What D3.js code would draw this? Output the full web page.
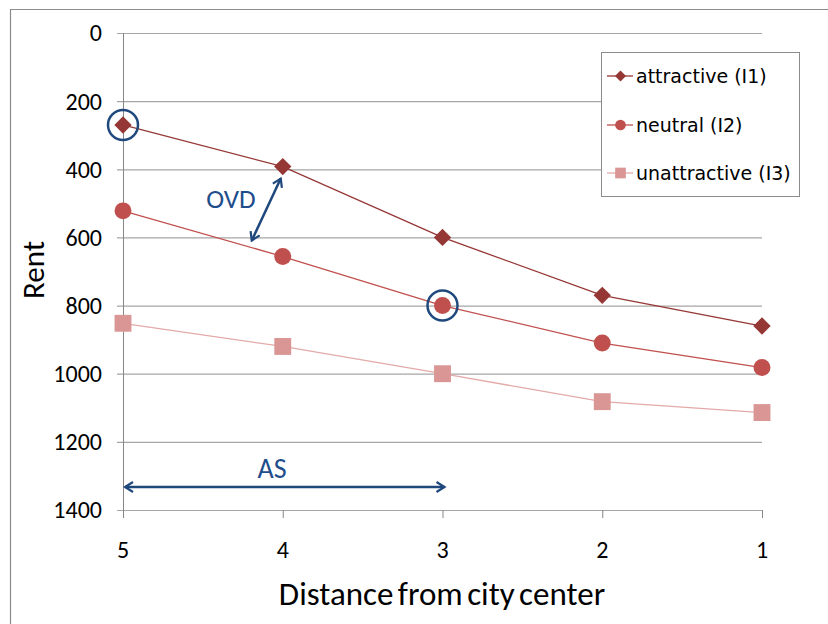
<!DOCTYPE html>
<html lang="en">
<head>
<meta charset="UTF-8">
<title>Rent vs distance</title>
<script src="https://d3js.org/d3.v7.min.js"></script>
<style>
  body { margin: 0; background: #fff; }
  svg { display: block; }
</style>
</head>
<body>
<svg id="chart" width="828" height="624"></svg>
<script>
// data
const distances = ["5", "4", "3", "2", "1"];
const attractive = [270, 392, 600, 770, 860];
const neutral = [522, 656, 800, 910, 982];
const unattractive = [852, 920, 1000, 1082, 1114];
const yTicks = [0, 200, 400, 600, 800, 1000, 1200, 1400];
const seriesNames = ["attractive (I1)", "neutral (I2)", "unattractive (I3)"];

const series = [
  { name: seriesNames[0], values: attractive, color: "#953735", line: "#953735", shape: d3.symbolSquare, rot: 45, size: 150 },
  { name: seriesNames[1], values: neutral, color: "#C0504D", line: "#C0504D", shape: d3.symbolCircle, rot: 0, size: 225 },
  { name: seriesNames[2], values: unattractive, color: "#D99694", line: "#E3AAA8", shape: d3.symbolSquare, rot: 0, size: 285 }
];

const svg = d3.select("#chart");
const labelFont = "Carlito, 'Liberation Sans Narrow', 'DejaVu Sans Condensed', sans-serif";
const navy = "#1F497D";

// outer frame (only top and left edges show)
svg.append("path")
  .attr("d", "M10.5,640 V9.5 H840")
  .attr("fill", "none")
  .attr("stroke", "#8c8c8c")
  .attr("stroke-width", 1.2);

const x = d3.scalePoint().domain(distances).range([123, 762]);
const y = d3.scaleLinear().domain([0, 1400]).range([33, 510]);

// gridlines
svg.append("g").selectAll("line")
  .data(yTicks)
  .enter().append("line")
  .attr("x1", 117).attr("x2", 762)
  .attr("y1", d => y(d) + 0.5).attr("y2", d => y(d) + 0.5)
  .attr("stroke", "#a6a6a6")
  .attr("stroke-width", 1.2);

// y axis line
svg.append("line")
  .attr("x1", 123.5).attr("x2", 123.5)
  .attr("y1", y(0)).attr("y2", y(1400))
  .attr("stroke", "#868686");

// x tick marks
svg.append("g").selectAll("line")
  .data(distances)
  .enter().append("line")
  .attr("x1", d => x(d) + 0.5).attr("x2", d => x(d) + 0.5)
  .attr("y1", y(1400)).attr("y2", y(1400) + 8)
  .attr("stroke", "#868686");

// y tick labels
svg.append("g").selectAll("text")
  .data(yTicks)
  .enter().append("text")
  .attr("x", 102)
  .attr("y", d => y(d))
  .attr("dy", "0.35em")
  .attr("text-anchor", "end")
  .attr("font-family", labelFont)
  .attr("font-size", 24)
  .attr("fill", "#000")
  .text(d => d);

// x tick labels
svg.append("g").selectAll("text")
  .data(distances)
  .enter().append("text")
  .attr("x", d => x(d))
  .attr("y", 550)
  .attr("dy", "0.35em")
  .attr("text-anchor", "middle")
  .attr("font-family", labelFont)
  .attr("font-size", 24)
  .text(d => d);

// axis titles
svg.append("text")
  .attr("x", 442).attr("y", 605)
  .attr("text-anchor", "middle")
  .attr("font-family", labelFont)
  .attr("font-size", 33)
  .attr("word-spacing", -3)
  .text("Distance from city center");

svg.append("text")
  .attr("transform", "translate(44,270) rotate(-90)")
  .attr("text-anchor", "middle")
  .attr("font-family", labelFont)
  .attr("font-size", 31)
  .text("Rent");

// series lines and markers
const line = d3.line()
  .x((d, i) => x(distances[i]))
  .y(d => y(d));

series.forEach(s => {
  svg.append("path")
    .datum(s.values)
    .attr("d", line)
    .attr("fill", "none")
    .attr("stroke", s.line)
    .attr("stroke-width", 1.3);
});

series.forEach(s => {
  svg.append("g").selectAll("path")
    .data(s.values)
    .enter().append("path")
    .attr("d", d3.symbol().type(s.shape).size(s.size))
    .attr("transform", (d, i) => `translate(${x(distances[i])},${y(d)}) rotate(${s.rot})`)
    .attr("fill", s.color);
});

// legend
const legend = svg.append("g");
legend.append("rect")
  .attr("x", 601.5).attr("y", 52.5)
  .attr("width", 198).attr("height", 144)
  .attr("fill", "#fff")
  .attr("stroke", "#8c8c8c");

const legendY = [76, 125, 173];
series.forEach((s, i) => {
  const g = legend.append("g").attr("transform", `translate(0,${legendY[i]})`);
  g.append("line")
    .attr("x1", 607).attr("x2", 633)
    .attr("stroke", s.line).attr("stroke-width", 1.3);
  g.append("path")
    .attr("d", d3.symbol().type(s.shape).size(s.size * 0.4))
    .attr("transform", `translate(620.5,0) rotate(${s.rot})`)
    .attr("fill", s.color);
  g.append("text")
    .attr("x", 636).attr("dy", "0.35em")
    .attr("font-family", "'DejaVu Sans', Verdana, sans-serif")
    .attr("font-size", 19)
    .text(s.name);
});

// annotations
svg.append("defs").append("marker")
  .attr("id", "head")
  .attr("viewBox", "0 0 12 12")
  .attr("refX", 10).attr("refY", 6)
  .attr("markerWidth", 12).attr("markerHeight", 12)
  .attr("markerUnits", "userSpaceOnUse")
  .attr("orient", "auto-start-reverse")
  .append("path")
  .attr("d", "M2,1 L10,6 L2,11")
  .attr("fill", "none")
  .attr("stroke", navy)
  .attr("stroke-width", 2.2);

// highlighted points
[[distances[0], attractive[0]], [distances[2], neutral[2]]].forEach(p => {
  svg.append("circle")
    .attr("cx", x(p[0])).attr("cy", y(p[1]))
    .attr("r", 15)
    .attr("fill", "none")
    .attr("stroke", navy)
    .attr("stroke-width", 2.5);
});

// OVD arrow between series at distance 4
svg.append("line")
  .attr("x1", x("4") - 2).attr("y1", y(attractive[1]) + 12)
  .attr("x2", x("4") - 31).attr("y2", y(neutral[1]) - 16)
  .attr("stroke", navy).attr("stroke-width", 2.5)
  .attr("marker-start", "url(#head)")
  .attr("marker-end", "url(#head)");

svg.append("text")
  .attr("x", 231).attr("y", 208)
  .attr("text-anchor", "middle")
  .attr("font-family", labelFont)
  .attr("font-size", 27)
  .attr("fill", "#1F4E8C")
  .text("OVD");

// AS arrow from 5 to 3
svg.append("line")
  .attr("x1", x("5") + 2).attr("y1", 487)
  .attr("x2", x("3") + 2).attr("y2", 487)
  .attr("stroke", navy).attr("stroke-width", 2.5)
  .attr("marker-start", "url(#head)")
  .attr("marker-end", "url(#head)");

svg.append("text")
  .attr("x", 272).attr("y", 478)
  .attr("text-anchor", "middle")
  .attr("font-family", labelFont)
  .attr("font-size", 28)
  .attr("fill", "#1F4E8C")
  .text("AS");
</script>
</body>
</html>
